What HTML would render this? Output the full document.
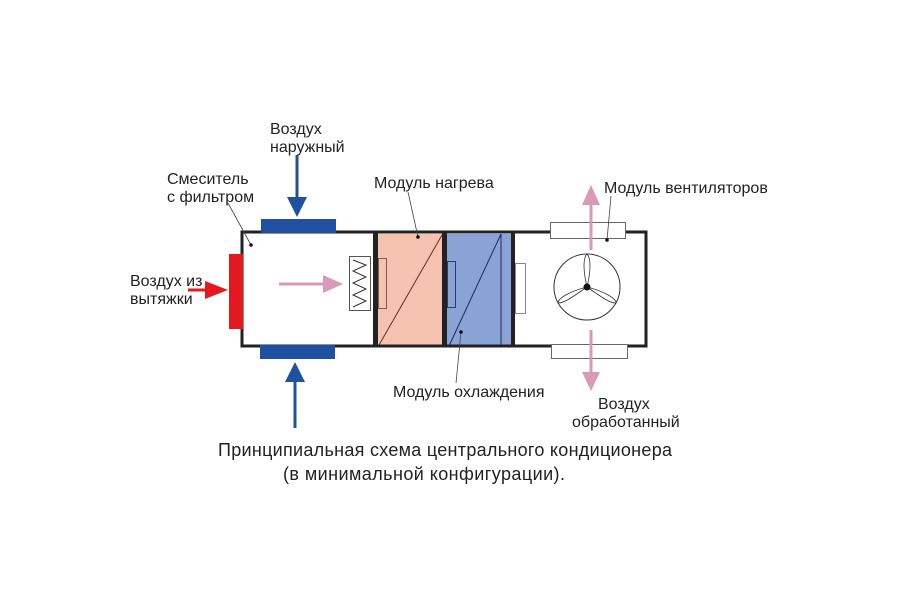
<!DOCTYPE html>
<html><head><meta charset="utf-8"><style>body{margin:0;background:#fff}svg{display:block}text{font-family:"Liberation Sans",sans-serif;fill:#222}</style></head>
<body>
<svg width="900" height="600" viewBox="0 0 900 600" xmlns="http://www.w3.org/2000/svg">
<rect width="900" height="600" fill="#fff"/>
<rect x="378" y="234" width="64" height="112" fill="#f6c3b1"/>
<rect x="447" y="234" width="64" height="112" fill="#8aa3d6"/>
<path d="M242 232 H646 V346 H242 Z" fill="none" stroke="#222" stroke-width="3"/>
<rect x="373" y="232" width="5" height="115" fill="#222"/>
<rect x="442" y="232" width="5" height="115" fill="#222"/>
<rect x="511" y="232" width="4" height="115" fill="#222"/>
<line x1="379" y1="345" x2="442" y2="235" stroke="#6b2a2a" stroke-width="1"/>
<line x1="449" y1="346" x2="501" y2="234" stroke="#1c2a5a" stroke-width="1"/>
<line x1="501" y1="234" x2="501" y2="345" stroke="#1c2a5a" stroke-width="1"/>
<rect x="378.5" y="258.5" width="8" height="50" fill="none" stroke="#8a5a50" stroke-width="1"/>
<rect x="447.5" y="261.5" width="8" height="46" fill="none" stroke="#2a3a6a" stroke-width="1"/>
<rect x="515.5" y="263.5" width="10" height="50" fill="#fff" stroke="#888" stroke-width="1"/>
<rect x="349.5" y="256.5" width="21" height="54" fill="#fff" stroke="#555" stroke-width="1"/>
<polyline points="353,260 366,265 353,271 366,277 353,283 366,289 353,295 366,301 353,307" fill="none" stroke="#333" stroke-width="1"/>
<rect x="229" y="254" width="14" height="75" fill="#e3191f"/>
<rect x="261" y="219" width="75" height="14" fill="#2050a0"/>
<rect x="260" y="345" width="75" height="14" fill="#2050a0"/>
<rect x="550.5" y="222.5" width="75" height="16" fill="#fff" stroke="#666" stroke-width="1"/>
<rect x="551.5" y="344.5" width="76" height="14" fill="#fff" stroke="#666" stroke-width="1"/>
<circle cx="587" cy="287" r="33" fill="#fff" stroke="#333" stroke-width="1"/>
<path d="M587 287 C583 270 583 258 587 254 C591 258 591 270 587 287 Z" fill="#fff" stroke="#333" stroke-width="0.8"/>
<path d="M587 287 C574 296 563 304 558 303 C558 298 571 291 587 287 Z" fill="#fff" stroke="#333" stroke-width="0.8"/>
<path d="M587 287 C600 296 611 304 616 303 C616 298 603 291 587 287 Z" fill="#fff" stroke="#333" stroke-width="0.8"/>
<circle cx="587" cy="287" r="3.5" fill="#111"/>
<line x1="279" y1="284" x2="326" y2="284" stroke="#d89ab8" stroke-width="3"/>
<polygon points="323,275 343,284 323,293" fill="#d89ab8"/>
<line x1="591" y1="250" x2="591" y2="200" stroke="#d89ab8" stroke-width="3"/>
<polygon points="582,205 591,185 600,205" fill="#d89ab8"/>
<line x1="591" y1="330" x2="591" y2="375" stroke="#d89ab8" stroke-width="3"/>
<polygon points="582,372 591,391 600,372" fill="#d89ab8"/>
<line x1="188" y1="290" x2="212" y2="290" stroke="#e3191f" stroke-width="3"/>
<polygon points="205,281 228,290 205,299" fill="#e3191f"/>
<line x1="297" y1="155" x2="297" y2="200" stroke="#2050a0" stroke-width="3"/>
<polygon points="287,197 297,217 307,197" fill="#2050a0"/>
<line x1="295" y1="428" x2="295" y2="378" stroke="#2050a0" stroke-width="3"/>
<polygon points="285,382 295,362 305,382" fill="#2050a0"/>
<g stroke="#444" stroke-width="0.8">
<line x1="228" y1="203" x2="251" y2="245"/>
<line x1="408" y1="192" x2="418" y2="237"/>
<line x1="611" y1="196" x2="607" y2="240"/>
<line x1="461" y1="332" x2="456" y2="383"/>
</g>
<circle cx="251" cy="245" r="1.8" fill="#111"/>
<circle cx="418" cy="237" r="1.8" fill="#111"/>
<circle cx="607" cy="240" r="1.8" fill="#111"/>
<circle cx="461" cy="332" r="1.8" fill="#111"/>
<g font-size="16">
<text x="270" y="134">Воздух</text>
<text x="270" y="152">наружный</text>
<text x="167" y="184">Смеситель</text>
<text x="167" y="202">с фильтром</text>
<text x="374" y="188">Модуль нагрева</text>
<text x="604" y="193">Модуль вентиляторов</text>
<text x="130" y="286">Воздух из</text>
<text x="130" y="304">вытяжки</text>
<text x="393" y="397">Модуль охлаждения</text>
<text x="598" y="409">Воздух</text>
<text x="572" y="427">обработанный</text>
</g>
<text x="218" y="456" font-size="18" textLength="454">Принципиальная схема центрального кондиционера</text>
<text x="283" y="480" font-size="18" textLength="282">(в минимальной конфигурации).</text>
</svg>
</body></html>
